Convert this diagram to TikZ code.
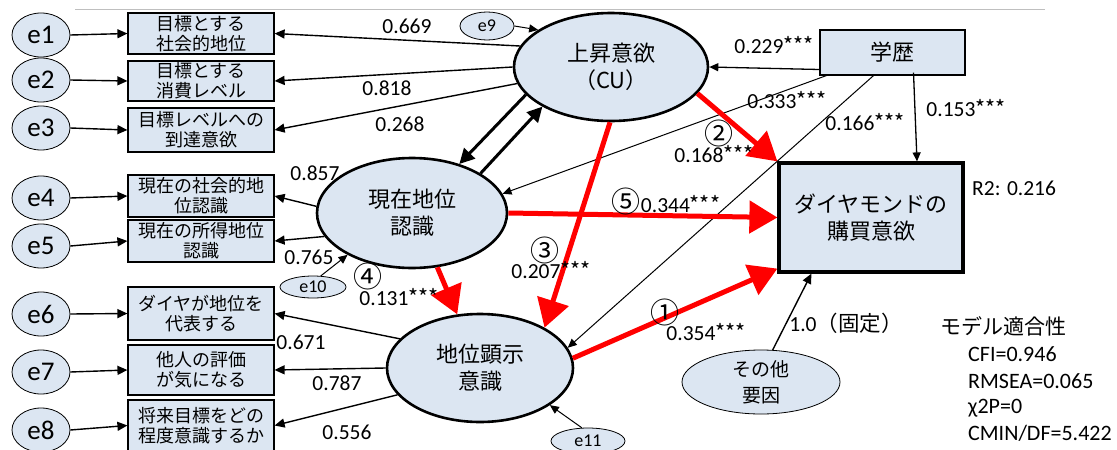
\documentclass[tikz,border=0pt]{standalone}
\usepackage{fontspec}
\setmainfont{Carlito}
\newfontfamily\jp{Noto Sans CJK JP}
\newcommand{\stars}{{\jp ***}}
\usetikzlibrary{arrows.meta,shapes.geometric}
\definecolor{fillc}{RGB}{220,230,242}
\definecolor{redc}{RGB}{255,0,0}
\begin{document}
\begin{tikzpicture}[x=1pt,y=-1pt,
  errnode/.style={ellipse,draw,fill=fillc,line width=0.8pt,minimum width=58pt,minimum height=44pt,inner sep=0pt,font=\fontsize{27}{27}\selectfont},
  smallerr/.style={ellipse,draw,fill=fillc,line width=0.8pt,inner sep=0pt,font=\fontsize{18}{18}\selectfont},
  obsbox/.style={rectangle,draw,fill=fillc,line width=1.2pt,minimum width=146pt,inner sep=0pt,align=center,font=\jp\fontsize{18}{20}\selectfont},
  latent/.style={ellipse,draw,fill=fillc,line width=2.6pt,inner sep=0pt,align=center,font=\jp\fontsize{22}{27}\selectfont},
  arr/.style={-{Triangle[length=10pt,width=9pt]},line width=1.4pt},
  thinarr/.style={-{Triangle[length=9pt,width=8pt]},line width=1pt},
  thickarr/.style={-{Triangle[length=15pt,width=15pt]},line width=3pt},
  redarr/.style={-{Triangle[length=28pt,width=32pt]},line width=5pt,draw=redc,color=redc},
  lbl/.style={inner sep=0pt,font=\fontsize{21.5}{21.5}\selectfont},
  jlbl/.style={inner sep=0pt,font=\jp\fontsize{21}{21}\selectfont},
  circ/.style={inner sep=0pt,font=\jp\fontsize{29}{29}\selectfont},
  fitl/.style={inner sep=0pt,anchor=base west,font=\fontsize{22}{22}\selectfont}
]
\useasboundingbox (0,0) rectangle (1117,450);
\coordinate (tl) at (75,9);
\coordinate (tr) at (1045,9);
\draw[line width=1pt,color=black!25] (tl) -- (tr);

% error ellipses
\node[errnode] (e1) at (41,35) {e1};
\node[errnode] (e2) at (41,80) {e2};
\node[errnode] (e3) at (41,128) {e3};
\node[errnode] (e4) at (41,198) {e4};
\node[errnode] (e5) at (41,246) {e5};
\node[errnode] (e6) at (41,314) {e6};
\node[errnode] (e7) at (41,372) {e7};
\node[errnode] (e8) at (41,430) {e8};

% observed boxes
\node[obsbox,minimum height=41pt] (b1) at (201,33.5) {目標とする\\社会的地位};
\node[obsbox,minimum height=40pt] (b2) at (201,81) {目標とする\\消費レベル};
\node[obsbox,minimum height=44pt] (b3) at (201,130) {目標レベルへの\\到達意欲};
\node[obsbox,minimum height=42pt] (b4) at (201,196) {現在の社会的地\\位認識};
\node[obsbox,minimum height=42pt] (b5) at (201,241) {現在の所得地位\\認識};
\node[obsbox,minimum height=53pt] (b6) at (201,313.5) {ダイヤが地位を\\代表する};
\node[obsbox,minimum height=50pt] (b7) at (201,370) {他人の評価\\が気になる};
\node[obsbox,minimum height=51pt] (b8) at (201,425.5) {将来目標をどの\\程度意識するか};

\foreach \i in {1,...,8} {\draw[arr] (e\i.east) -- (b\i.west);}

% latent ellipses
\node[latent,minimum width=194pt,minimum height=108pt] (cu) at (611,67) {上昇意欲\\（CU）};
\node[latent,minimum width=190pt,minimum height=110pt] (gen) at (412,213) {現在地位\\認識};
\node[latent,minimum width=186pt,minimum height=108pt] (ck) at (480,368) {地位顕示\\意識};

% small error ellipses
\node[smallerr,minimum width=54pt,minimum height=28pt] (e9) at (487,26) {e9};
\node[smallerr,minimum width=66pt,minimum height=22pt] (e10) at (313,287) {e10};
\node[smallerr,minimum width=74pt,minimum height=26pt] (e11) at (588,441) {e11};

% gakureki and diamond
\node[rectangle,draw,fill=fillc,line width=1.2pt,minimum width=145pt,minimum height=45pt,inner sep=0pt,font=\jp\fontsize{22}{22}\selectfont] (gk) at (892.5,52.5) {学歴};
\node[rectangle,draw,fill=fillc,line width=3.2pt,minimum width=184pt,minimum height=109pt,inner sep=0pt,align=center,font=\jp\fontsize{22}{27}\selectfont] (dia) at (871,217.5) {ダイヤモンドの\\購買意欲};
\node[ellipse,draw,fill=fillc,line width=0.8pt,minimum width=158pt,minimum height=64pt,inner sep=0pt,align=center,font=\jp\fontsize{19}{26}\selectfont] (sono) at (761,382) {その他\\要因};

% loadings
\draw[arr] (cu.167) -- (b1.east);
\draw[arr] (cu.180) -- (b2.east);
\draw[arr] (cu.190) -- (b3.east);
\draw[arr] (gen.176) -- (b4.east);
\draw[arr] (gen.195) -- (b5.east);
\draw[arr] (ck.160) -- (b6.east);
\draw[arr] (ck.180) -- (b7.east);
\draw[arr] (ck.198) -- (b8.east);

% error arrows to latent
\draw[thinarr] (e9.east) -- (cu.153);
\draw[thinarr] (e10.55) -- (gen.213);
\draw[thinarr] (e11.115) -- (ck.-28);

% double arrows
\draw[thickarr] (cu.198) -- (gen.46);
\draw[thickarr] (gen.30) -- (cu.210);

% gakureki arrows
\draw[thinarr,line width=1.3pt] ([yshift=-17pt]gk.west) -- (cu.east);
\draw[thinarr] ([xshift=7pt]gk.south west) -- (gen.12);
\draw[thinarr] ([xshift=-19pt]gk.south) -- (ck.13);
\draw[thinarr,line width=1.3pt] ([xshift=21pt,yshift=3pt]gk.south) -- ([xshift=46pt]dia.north);

% red arrows
\draw[redarr] (cu.-17) -- (dia.north west);
\draw[redarr] (cu.-91) -- (ck.32);
\draw[redarr] (gen.east) -- (dia.west);
\draw[redarr] (gen.-65) -- (ck.113);
\draw[redarr] (ck.6) -- ([yshift=5pt]dia.south west);

% other factor
\draw[arr] (sono.70) -- ([xshift=34pt]dia.south west);

% labels
\node[lbl] (l1) at (407,26) {0.669};
\node[lbl] (l2) at (387,88) {0.818};
\node[lbl] (l3) at (400,124) {0.268};
\node[lbl] (l4) at (315,173) {0.857};
\node[lbl] (l5) at (309,257) {0.765};
\node[lbl] (l6) at (301,342) {0.671};
\node[lbl] (l7) at (337,383) {0.787};
\node[lbl] (l8) at (347,432) {0.556};
\node[lbl] (l9) at (774,45) {0.229\stars};
\node[lbl] (l10) at (787,100) {0.333\stars};
\node[lbl] (l11) at (865,122) {0.166\stars};
\node[lbl] (l12) at (966,108) {0.153\stars};
\node[circ] (c2) at (719,133) {②};
\node[lbl] (l13) at (714,154) {0.168\stars};
\node[lbl] (l14) at (666,201) {{\jp\fontsize{29}{29}\selectfont ⑤}0.344\stars};
\node[circ] (c3) at (545,250) {③};
\node[lbl] (l15) at (551,270) {0.207\stars};
\node[circ] (c4) at (368,276) {④};
\node[lbl] (l16) at (399,297) {0.131\stars};
\node[circ] (c1) at (665,312) {①};
\node[lbl] (l17) at (706,332) {0.354\stars};
\node[lbl,anchor=west] (r2) at (972,188) {R2: 0.216};
\node[lbl] (fix) at (846,323) {1.0{\jp（固定）}};
\node[jlbl] (fit) at (1003,326) {モデル適合性};
\node[fitl] (f1) at (968,361) {CFI=0.946};
\node[fitl] (f2) at (968,388) {RMSEA=0.065};
\node[fitl] (f3) at (968,413) {χ2P=0};
\node[fitl] (f4) at (968,440) {CMIN/DF=5.422};
\end{tikzpicture}
\end{document}
